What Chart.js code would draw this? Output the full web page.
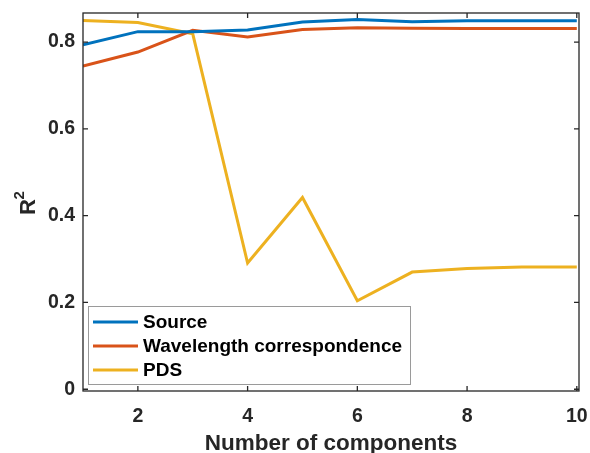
<!DOCTYPE html>
<html lang="en">
  <head>
    <meta charset="UTF-8" />
    <title>R2 vs number of components</title>
    <script src="https://cdn.jsdelivr.net/npm/chart.js"></script>
    <style>
      html, body {
        margin: 0;
        padding: 0;
        background: #ffffff;
      }
      #wrap {
        position: relative;
        width: 590px;
        height: 453px;
      }
    </style>
  </head>
  <body>
    <div id="wrap">
      <canvas id="r2Chart" width="590" height="453"></canvas>
    </div>

    <script>
      const components = [1, 2, 3, 4, 5, 6, 7, 8, 9, 10];
      const sourceR2 = [0.794, 0.824, 0.824, 0.828, 0.846, 0.852, 0.847, 0.849, 0.849, 0.849];
      const wavelengthR2 = [0.745, 0.777, 0.827, 0.812, 0.829, 0.833, 0.832, 0.831, 0.831, 0.831];
      const pdsR2 = [0.850, 0.845, 0.819, 0.291, 0.442, 0.204, 0.270, 0.278, 0.282, 0.282];
      const xTicks = [2, 4, 6, 8, 10];
      const yTicks = [0, 0.2, 0.4, 0.6, 0.8];
      const yTickLabels = ["0", "0.2", "0.4", "0.6", "0.8"];

      const INK = "#262626";
      const FONT = "'Liberation Sans', Arial, Helvetica, sans-serif";

      function toPoints(values) {
        return components.map((c, i) => ({ x: c, y: values[i] }));
      }

      // box round the axes with inward ticks on all four sides (MATLAB look),
      // the R^2 label and the legend
      const axesBox = {
        id: "axesBox",
        afterDatasetsDraw(chart) {
          const { ctx, chartArea: a, scales } = chart;
          const len = 5;
          ctx.save();
          ctx.strokeStyle = INK;
          ctx.lineWidth = 1.3;
          ctx.beginPath();
          xTicks.forEach((t) => {
            const px = scales.x.getPixelForValue(t);
            ctx.moveTo(px, a.bottom);
            ctx.lineTo(px, a.bottom - len);
            ctx.moveTo(px, a.top);
            ctx.lineTo(px, a.top + len);
          });
          yTicks.forEach((t) => {
            const py = scales.y.getPixelForValue(t);
            ctx.moveTo(a.left, py);
            ctx.lineTo(a.left + len, py);
            ctx.moveTo(a.right, py);
            ctx.lineTo(a.right - len, py);
          });
          ctx.stroke();
          ctx.strokeRect(a.left, a.top, a.right - a.left, a.bottom - a.top);
          ctx.restore();
        },
        afterDraw(chart) {
          const { ctx, chartArea: a } = chart;

          // y label: R with a raised 2
          ctx.save();
          ctx.fillStyle = INK;
          ctx.translate(35, (a.top + a.bottom) / 2 + 13);
          ctx.rotate(-Math.PI / 2);
          ctx.textBaseline = "alphabetic";
          ctx.font = "bold 22px " + FONT;
          ctx.fillText("R", 0, 0);
          const rw = ctx.measureText("R").width;
          ctx.font = "bold 15px " + FONT;
          ctx.fillText("2", rw - 0.5, -11.5);
          ctx.restore();

          // legend box in the lower left corner of the axes
          const x0 = a.left + 5;
          const y0 = a.bottom - 85;
          const w = 322;
          const h = 78;
          ctx.save();
          ctx.fillStyle = "#ffffff";
          ctx.fillRect(x0, y0, w, h);
          ctx.strokeStyle = "#9a9a9a";
          ctx.lineWidth = 1;
          ctx.strokeRect(x0 + 0.5, y0 + 0.5, w, h);
          ctx.font = "bold 19px " + FONT;
          ctx.textBaseline = "middle";
          chart.data.datasets.forEach((ds, i) => {
            const cy = y0 + 16 + i * 24;
            ctx.strokeStyle = ds.borderColor;
            ctx.lineWidth = 3;
            ctx.beginPath();
            ctx.moveTo(x0 + 5, cy);
            ctx.lineTo(x0 + 50, cy);
            ctx.stroke();
            ctx.fillStyle = "#000000";
            ctx.fillText(ds.label, x0 + 55, cy + 1);
          });
          ctx.restore();
        },
      };

      new Chart(document.getElementById("r2Chart"), {
        type: "line",
        data: {
          datasets: [
            { label: "Source", data: toPoints(sourceR2), borderColor: "#0072BD" },
            { label: "Wavelength correspondence", data: toPoints(wavelengthR2), borderColor: "#D95319" },
            { label: "PDS", data: toPoints(pdsR2), borderColor: "#EDB120" },
          ],
        },
        options: {
          responsive: false,
          animation: false,
          layout: { padding: { top: 13, right: 11, left: 0, bottom: 0 } },
          elements: {
            line: { borderWidth: 3, tension: 0 },
            point: { radius: 0 },
          },
          plugins: {
            legend: { display: false },
            tooltip: { enabled: false },
          },
          scales: {
            x: {
              type: "linear",
              min: 1,
              max: 10.04,
              grid: { display: false, drawTicks: false },
              border: { display: false },
              afterBuildTicks(scale) {
                scale.ticks = xTicks.map((v) => ({ value: v }));
              },
              afterFit(scale) {
                scale.height = 62;
                scale.paddingLeft = 0;
                scale.paddingRight = 0;
              },
              ticks: {
                color: INK,
                font: { family: FONT, size: 19.5, weight: "bold" },
                padding: 14,
                maxRotation: 0,
              },
              title: {
                display: true,
                text: "Number of components",
                color: INK,
                font: { family: FONT, size: 22.5, weight: "bold" },
                padding: { top: 0, bottom: -4 },
              },
            },
            y: {
              min: -0.004,
              max: 0.867,
              grid: { display: false, drawTicks: false },
              border: { display: false },
              afterBuildTicks(scale) {
                scale.ticks = yTicks.map((v) => ({ value: v }));
              },
              afterFit(scale) {
                scale.width = 83;
                scale.paddingTop = 0;
                scale.paddingBottom = 0;
              },
              ticks: {
                color: INK,
                font: { family: FONT, size: 19.5, weight: "bold" },
                padding: 8,
                callback: (v) => yTickLabels[yTicks.indexOf(v)],
              },
            },
          },
        },
        plugins: [axesBox],
      });
    </script>
  </body>
</html>
